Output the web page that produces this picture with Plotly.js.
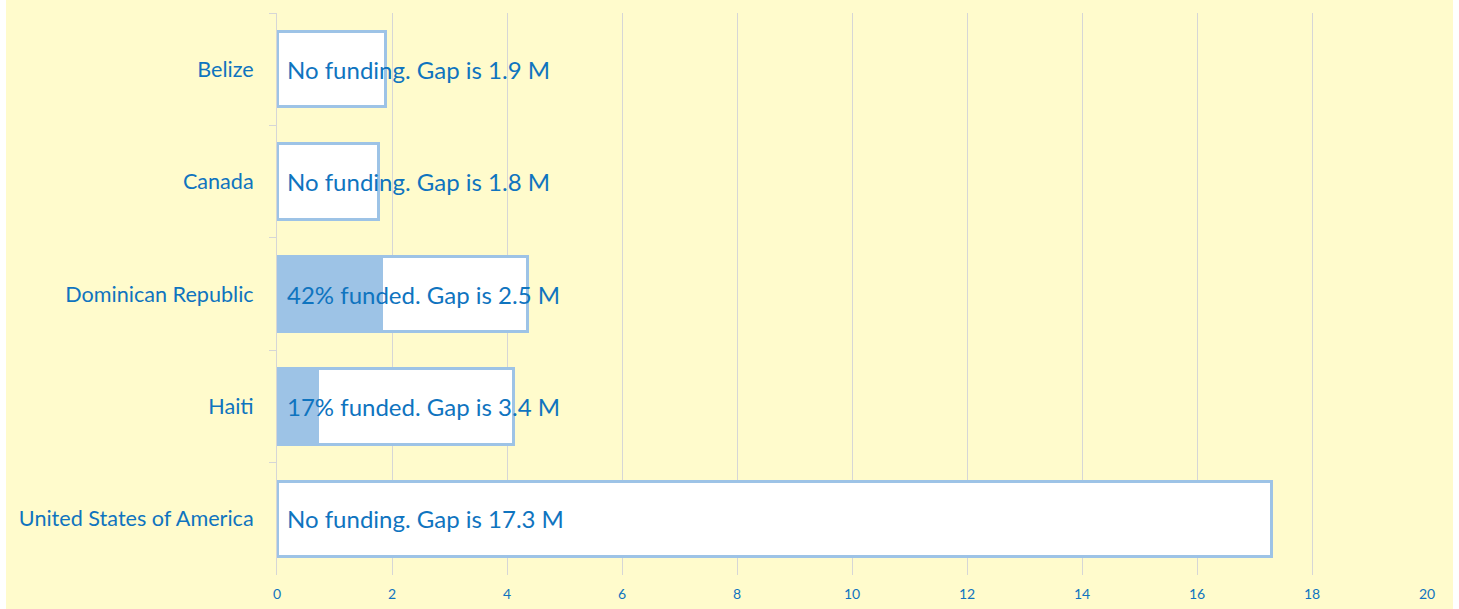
<!DOCTYPE html>
<html>
<head>
<meta charset="utf-8">
<script src="https://cdn.plot.ly/plotly-3.0.1.min.js"></script>
<style>
html,body{margin:0;padding:0;background:#ffffff;}
#chart{position:absolute;left:6px;top:0;width:1447px;height:609px;}
</style>
</head>
<body>
<div id="chart"></div>
<script>
const countries = ["Belize", "Canada", "Dominican Republic", "Haiti", "United States of America"];
const funded = [0, 0, 1.81, 0.7, 0];
const gap = [1.88, 1.76, 2.54, 3.42, 17.29];
const xTicks = [0, 2, 4, 6, 8, 10, 12, 14, 16, 18, 20];

const textColor = "#0F74BF";
const barBlue = "#9DC3E6";
const labelFont = "Lato, 'Open Sans', sans-serif";

const labels = countries.map((c, i) => {
  const total = funded[i] + gap[i];
  if (funded[i] > 0) {
    const pct = Math.round(funded[i] / total * 100);
    return pct + "% funded. Gap is " + gap[i].toFixed(1) + " M";
  }
  return "No funding. Gap is " + gap[i].toFixed(1) + " M";
});

const traces = [
  {
    type: "bar", orientation: "h", y: countries, x: funded, name: "Funded",
    marker: {color: barBlue, line: {color: barBlue, width: 3}},
    hoverinfo: "skip"
  },
  {
    type: "bar", orientation: "h", y: countries, x: gap, name: "Gap",
    marker: {color: "#ffffff", line: {color: barBlue, width: 3}},
    hoverinfo: "skip"
  }
];

const annotations = countries.map((c, i) => ({
  x: 0, y: c, xref: "x", yref: "y", text: labels[i], showarrow: false,
  xanchor: "left", yanchor: "middle", xshift: 8,
  font: {family: labelFont, size: 24, color: textColor}
}));

const layout = {
  barmode: "stack",
  bargap: 0.33,
  showlegend: false,
  paper_bgcolor: "#FFFBCC",
  plot_bgcolor: "#FFFBCC",
  margin: {l: 271, r: 26, t: 13, b: 34},
  xaxis: {
    range: [0, 20], tickvals: xTicks, ticktext: xTicks.map(String),
    showgrid: true, gridcolor: "#D6D6D6", gridwidth: 1,
    zeroline: false, showline: false, ticks: "",
    ticklabelstandoff: 9,
    tickfont: {family: labelFont, size: 14, color: textColor}
  },
  yaxis: {
    autorange: "reversed", type: "category",
    showline: true, linecolor: "#D6D6D6", linewidth: 1,
    ticks: "outside", tickson: "boundaries", ticklen: 7, tickcolor: "#D6D6D6",
    showgrid: false, zeroline: false,
    ticklabelstandoff: 18,
    tickfont: {family: labelFont, size: 21.6, color: textColor}
  },
  annotations: annotations
};

Plotly.newPlot("chart", traces, layout, {displayModeBar: false, staticPlot: true});
</script>
</body>
</html>
